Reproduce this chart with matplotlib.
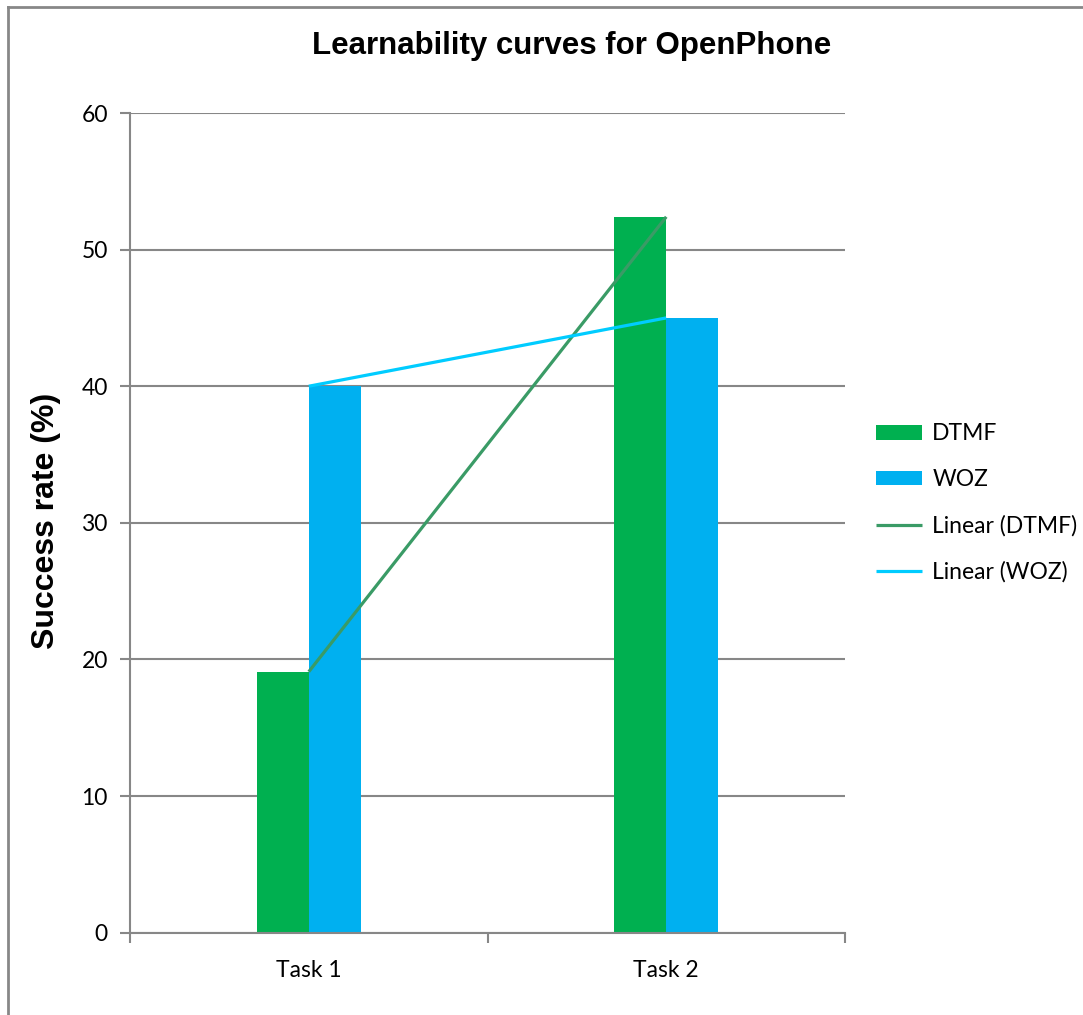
import numpy as np
import matplotlib
matplotlib.use("Agg")
import matplotlib.pyplot as plt
from matplotlib.lines import Line2D

# Data
tasks = ["Task 1", "Task 2"]
dtmf = [19.1, 52.4]
woz = [40.0, 45.0]
yticks = [0, 10, 20, 30, 40, 50, 60]

C_DTMF = "#00B050"
C_WOZ = "#00B0F0"
C_LIN_DTMF = "#3A9B66"
C_LIN_WOZ = "#00CCFF"
GRID = "#878787"

W, H = 1083, 1015
fig = plt.figure(figsize=(W / 100, H / 100), dpi=100)
ax = fig.add_axes([130 / W, 1 - 932.7 / H, (845 - 130) / W, (932.7 - 113) / H])

centers = np.arange(len(tasks)) + 0.5
bw = 0.145
ax.bar(centers - bw / 2, dtmf, width=bw, color=C_DTMF, label="DTMF", zorder=2)
ax.bar(centers + bw / 2, woz, width=bw, color=C_WOZ, label="WOZ", zorder=2)

# Linear trend lines through each series
xs = np.arange(1, len(tasks) + 1)
for vals, col, lab in [(dtmf, C_LIN_DTMF, "Linear (DTMF)"), (woz, C_LIN_WOZ, "Linear (WOZ)")]:
    k, b = np.polyfit(xs, vals, 1)
    ax.plot(centers, k * xs + b, color=col, lw=2.3, label=lab, zorder=3,
            solid_capstyle="butt")

ax.set_xlim(0, len(tasks))
ax.set_ylim(0, 60)
ax.set_yticks(yticks)
ax.yaxis.grid(True, color=GRID, lw=1.5, zorder=0)
ax.set_axisbelow(True)

ax.set_xticks(np.arange(len(tasks) + 1))
ax.set_xticklabels([])
ax.set_xticks(centers, minor=True)
ax.set_xticklabels(tasks, minor=True)
ax.tick_params(axis="x", which="minor", length=0, pad=20)
ax.tick_params(axis="x", which="major", length=7, width=1.5, color=GRID)
ax.tick_params(axis="y", length=7, width=1.5, color=GRID, pad=9)

tick_font = "Lato"
FS = 16.5
for lbl in ax.get_yticklabels() + ax.get_xticklabels(minor=True):
    lbl.set_fontfamily(tick_font)
    lbl.set_fontsize(FS)

for s in ["top", "right"]:
    ax.spines[s].set_visible(False)
for s in ["left", "bottom"]:
    ax.spines[s].set_color(GRID)
    ax.spines[s].set_linewidth(1.5)

fig.text(571.5 / W, 1 - 46 / H, "Learnability curves for OpenPhone",
         ha="center", va="center", fontsize=22.5, fontweight="bold",
         family="Liberation Sans")
fig.text(46 / W, 1 - 521 / H, "Success rate (%)", rotation=90,
         ha="center", va="center", fontsize=23, fontweight="bold",
         family="Liberation Sans")

handles, labels = ax.get_legend_handles_labels()
order = [labels.index(n) for n in ["DTMF", "WOZ", "Linear (DTMF)", "Linear (WOZ)"]]
leg = fig.legend([handles[i] for i in order], [labels[i] for i in order],
                 loc="center left", bbox_to_anchor=(876 / W, 1 - 503 / H),
                 frameon=False, prop={"family": tick_font, "size": FS},
                 handlelength=2.0, handleheight=0.6, handletextpad=0.45,
                 labelspacing=1.08, borderpad=0, borderaxespad=0)

# Outer chart frame (left and top edges)
fig.add_artist(Line2D([8 / W, 8 / W], [0, 1 - 7 / H], color=GRID, lw=2,
                      transform=fig.transFigure))
fig.add_artist(Line2D([8 / W, 1], [1 - 7 / H, 1 - 7 / H], color=GRID, lw=2,
                      transform=fig.transFigure))

fig.savefig("out.png", dpi=100, facecolor="white")
